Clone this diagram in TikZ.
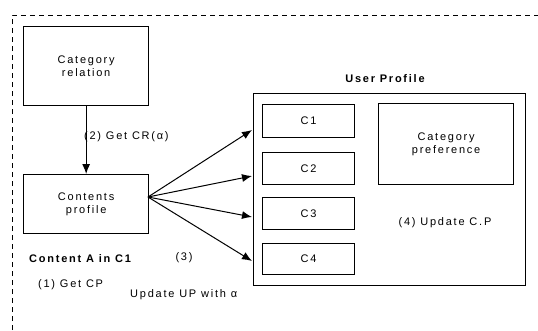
\documentclass[tikz,border=0pt]{standalone}
\usepackage{fontspec}
\setmainfont[LetterSpace=16]{Liberation Sans}
\usetikzlibrary{arrows.meta}
\begin{document}
\begin{tikzpicture}[x=1pt,y=-1pt,
  box/.style={draw,line width=1.3pt,anchor=north west,inner sep=0pt,align=center,font=\fontsize{11}{13}\selectfont},
  lbl/.style={font=\fontsize{11}{13}\selectfont,inner sep=0pt},
  blbl/.style={font=\bfseries\fontsize{11}{13}\selectfont,inner sep=0pt},
  arr/.style={line width=1pt,-{Latex[length=10pt,width=8pt]}}]
\useasboundingbox (0,0) rectangle (538,330);
\draw[line width=0.9pt,dash pattern=on 5pt off 4pt] (12,330) -- (12,15) -- (538,15);
\node[box,minimum width=125pt,minimum height=79pt] (cr) at (23,26) {Category\\relation};
\node[box,minimum width=125pt,minimum height=59pt] (cp) at (23,174) {Contents\\profile};
\node[box,minimum width=272pt,minimum height=192pt] (up) at (253,93) {};
\node[box,minimum width=92pt,minimum height=33pt] (c1) at (262,104) {C1};
\node[box,minimum width=92pt,minimum height=32pt] (c2) at (262,152) {C2};
\node[box,minimum width=92pt,minimum height=32pt] (c3) at (262,197) {C3};
\node[box,minimum width=92pt,minimum height=31pt] (c4) at (262,243) {C4};
\node[box,minimum width=135pt,minimum height=81pt] (pref) at (378,103) {Category\\preference};
\node[blbl] (uplbl) at (385,79) {User Profile};
\node[lbl] (upd4) at (445,223) {(4) Update C.P};
\node[lbl,anchor=west] (getcr) at (84,137) {(2) Get CR(α)};
\node[blbl,anchor=west] (content) at (29,259) {Content A in C1};
\node[lbl] (three) at (184,258) {(3)};
\node[lbl,anchor=west] (getcp) at (38,285) {(1) Get CP};
\node[lbl,anchor=west] (updup) at (130,295) {Update UP with α};
\coordinate (src) at (148,197);
\coordinate (t1) at (252,130);
\coordinate (t2) at (252,176);
\coordinate (t3) at (252,217);
\coordinate (t4) at (252,261);
\draw[arr] (cr.south) -- (cp.north);
\draw[arr] (src) -- (t1);
\draw[arr] (src) -- (t2);
\draw[arr] (src) -- (t3);
\draw[arr] (src) -- (t4);
\end{tikzpicture}
\end{document}
